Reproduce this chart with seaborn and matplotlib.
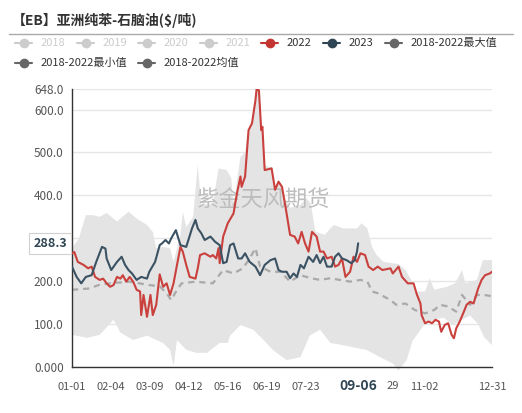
import matplotlib
matplotlib.use("Agg")
import matplotlib.pyplot as plt
from matplotlib.lines import Line2D
import numpy as np
import pandas as pd
import seaborn as sns

# 数据: 日期为一年中的第几天 (01-01 = 0)
red_days = [0, 2, 5, 10, 14, 17, 20, 24, 27, 30, 33, 36, 39, 42, 44, 47, 50, 53, 56, 59, 60, 62, 65, 68, 70, 73,
            76, 79, 82, 85, 88, 91, 94, 96, 99, 102, 107, 109, 111, 115, 120, 122, 125, 127, 128, 131, 135, 140,
            143, 146, 147, 150, 153, 156, 159, 160, 162, 164, 165, 167, 173, 176, 179, 182, 185, 189, 193, 196,
            199, 202, 205, 208, 212, 215, 218, 221, 225, 228, 231, 234, 237, 241, 244, 247, 250, 254, 257, 261,
            265, 269, 276, 278, 283, 286, 291, 296, 299, 302, 303, 306, 309, 312, 315, 318, 320, 323, 326, 329,
            331, 333, 336, 339, 342, 345, 348, 352, 355, 358, 362, 364]
red_vals = [265, 268, 245, 238, 230, 234, 210, 203, 206, 195, 187, 191, 210, 206, 214, 199, 210, 199, 180, 176, 121,
            168, 117, 168, 121, 145, 216, 187, 195, 168, 195, 238, 280, 269, 238, 210, 206, 230, 261, 265, 257, 261,
            253, 277, 242, 304, 335, 358, 405, 444, 420, 444, 552, 568, 622, 648, 645, 552, 560, 459, 463, 413, 432,
            420, 374, 308, 304, 288, 315, 288, 269, 315, 304, 269, 269, 253, 257, 234, 238, 253, 210, 222, 257, 245,
            265, 261, 234, 226, 234, 226, 230, 218, 234, 210, 195, 195, 168, 148, 121, 102, 106, 102, 110, 106, 82,
            98, 102, 75, 67, 90, 106, 125, 145, 152, 148, 183, 203, 214, 218, 222]

dark_days = [0, 4, 8, 12, 17, 21, 26, 29, 30, 34, 39, 43, 46, 49, 52, 56, 60, 65, 67, 72, 76, 78, 81, 84, 86, 90, 94,
             99, 104, 107, 109, 112, 115, 120, 124, 128, 131, 134, 137, 140, 144, 147, 150, 154, 159, 163, 167, 172,
             176, 179, 182, 186, 189, 192, 195, 198, 201, 205, 209, 212, 215, 218, 221, 225, 228, 231, 234, 238, 242,
             245, 247, 248]
dark_vals = [234, 210, 195, 210, 214, 245, 280, 276, 253, 226, 245, 257, 238, 226, 218, 203, 210, 206, 222, 245, 284,
             288, 296, 288, 300, 319, 284, 280, 323, 343, 323, 312, 296, 304, 292, 284, 242, 245, 284, 288, 253, 253,
             265, 245, 234, 214, 238, 249, 253, 226, 222, 222, 207, 218, 210, 238, 230, 257, 245, 261, 242, 257, 234,
             234, 257, 265, 253, 249, 242, 249, 269, 288.3]

mean_days = [0, 15, 23, 33, 50, 67, 76, 82, 86, 91, 95, 107, 122, 131, 140, 148, 154, 159, 163, 172, 181, 189, 198,
             207, 215, 224, 232, 241, 250, 256, 260, 265, 276, 281, 289, 297, 306, 314, 319, 326, 333, 338, 345, 351,
             357, 364]
mean_vals = [180, 183, 191, 195, 199, 191, 188, 172, 156, 180, 195, 199, 195, 226, 218, 230, 253, 277, 234, 222, 222,
             199, 214, 207, 203, 207, 203, 199, 203, 199, 176, 172, 156, 145, 148, 133, 125, 133, 145, 141, 129, 168,
             145, 168, 168, 165]

max_days = [0, 6, 12, 18, 24, 30, 39, 49, 56, 65, 70, 73, 79, 85, 88, 94, 96, 99, 105, 109, 112, 122, 127, 134, 138,
            140, 146, 150, 153, 156, 159, 160, 162, 164, 165, 167, 173, 176, 179, 182, 183, 189, 198, 203, 207, 211,
            219, 224, 227, 235, 247, 251, 256, 260, 264, 270, 283, 289, 294, 297, 306, 310, 314, 325, 332, 338, 341,
            351, 356, 364]
max_vals = [277, 300, 354, 354, 350, 359, 339, 362, 346, 331, 315, 277, 280, 277, 245, 308, 362, 326, 350, 471, 378,
            380, 463, 459, 441, 378, 490, 500, 552, 570, 622, 648, 645, 560, 562, 470, 465, 420, 435, 422, 400, 371,
            378, 394, 380, 315, 308, 323, 331, 323, 323, 335, 323, 280, 261, 245, 240, 226, 203, 176, 176, 207, 180,
            187, 195, 226, 195, 203, 249, 249]

min_days = [0, 13, 24, 36, 42, 53, 65, 79, 85, 88, 91, 99, 108, 117, 128, 135, 137, 146, 157, 166, 174, 186, 198, 206,
            215, 224, 235, 247, 255, 267, 278, 283, 290, 295, 299, 305, 314, 322, 330, 338, 345, 352, 357, 364]
min_vals = [75, 68, 75, 110, 80, 63, 73, 56, 40, 2, 63, 40, 33, 33, 56, 56, 73, 98, 87, 63, 40, 16, 23, 73, 87, 56,
            51, 44, 40, 23, 8, -8, 16, 60, 75, 98, 110, 115, 98, 110, 120, 100, 70, 51]

# 08-26 被最新日期标签遮住, 09-29 只露出 "29"
x_ticks = [0, 34, 67, 101, 135, 169, 203, 237, 271, 305, 364]
x_labels = ['01-01', '02-04', '03-09', '04-12', '05-16', '06-19', '07-23', '', '', '11-02', '12-31']
partial_label = '29'
# 300.0 被最新值标签遮住
y_ticks = [0, 100, 200, 300, 400, 500, 600, 648]
y_labels = ['0.000', '100.0', '200.0', '', '400.0', '500.0', '600.0', '648.0']
last_label = '09-06'

legend_items = [('2018', '#cccccc', False), ('2019', '#cccccc', False), ('2020', '#cccccc', False),
                ('2021', '#cccccc', False), ('2022', '#c23531', True), ('2023', '#2f4554', True),
                ('2018-2022最大值', '#666666', True), ('2018-2022最小值', '#666666', True),
                ('2018-2022均值', '#666666', True)]

RED = '#c9403d'
DARK = '#3b5263'

sns.set_style("white")
plt.rcParams['font.family'] = ['Noto Sans CJK SC', 'DejaVu Sans']

W, H = 522, 413
fig = plt.figure(figsize=(W / 100, H / 100), dpi=100)
ax = fig.add_axes([72 / W, 1 - 367 / H, 420 / W, 278 / H])


def fx(px):
    return px / W


def fy(py):
    return 1 - py / H


# 最大/最小值区间
band_x = np.r_[max_days, min_days[::-1]]
band_y = np.r_[max_vals, min_vals[::-1]]
ax.fill(band_x, band_y, color='#e4e4e4', lw=0, zorder=1, clip_on=False)

ax.text(0.455, 0.6, '紫金天风期货', transform=ax.transAxes, fontsize=16, color='#bdbdbd',
        ha='center', va='center', zorder=1.5)

sns.lineplot(x=mean_days, y=mean_vals, ax=ax, color='#a9a9a9', lw=1.6, linestyle='--', zorder=2)
sns.lineplot(x=red_days, y=red_vals, ax=ax, color=RED, lw=1.5, zorder=3)
sns.lineplot(x=dark_days, y=dark_vals, ax=ax, color=DARK, lw=1.5, zorder=4)
ax.lines[0].set_dashes((2.8, 2.2))

ax.set_xlim(0, 364)
ax.set_ylim(0, 648)
ax.set_xticks(x_ticks)
ax.set_xticklabels(x_labels)
ax.set_yticks(y_ticks)
ax.set_yticklabels(y_labels)
ax.set_xlabel('')
ax.set_ylabel('')
ax.tick_params(axis='x', length=5, width=1, color='#333333', labelsize=8, labelcolor='#555555', pad=6)
ax.tick_params(axis='y', length=4, width=1, color='#333333', labelsize=8.5, labelcolor='#555555', pad=2)
ax.grid(axis='y', color='#e6e6e6', lw=1, zorder=0)
ax.set_axisbelow(True)
for s in ['top', 'right']:
    ax.spines[s].set_visible(False)
for s in ['left', 'bottom']:
    ax.spines[s].set_color('#333333')
    ax.spines[s].set_linewidth(1)

# 09-29 的可见部分
ax.annotate(partial_label, xy=(x_ticks[8], 0), xycoords=('data', 'axes fraction'),
            xytext=(2, -19), textcoords='offset pixels', ha='left', va='center',
            fontsize=8, color='#555555', annotation_clip=False)

# 最新值标签
ax.text(-0.012, dark_vals[-1], f'{dark_vals[-1]:.1f}', transform=ax.get_yaxis_transform(),
        ha='right', va='center', fontsize=9, fontweight='bold', color='#2f4554', zorder=10,
        bbox=dict(boxstyle='square,pad=0.3', fc='white', ec='#d0d0d0', lw=0.8), clip_on=False)
ax.text(dark_days[-1], -0.068, last_label, transform=ax.get_xaxis_transform(),
        ha='center', va='center', fontsize=10, fontweight='bold', color='#2f4554', zorder=10, clip_on=False)

# 标题
fig.text(fx(12), fy(20), '【EB】亚洲纯苯-石脑油($/吨)', fontsize=10, fontweight='bold',
         color='#333333', ha='left', va='center')
fig.add_artist(Line2D([fx(9), fx(513)], [fy(34), fy(34)], color='#aaaaaa', lw=1))

# 图例
pos = [(15, 43), (77, 43), (138, 43), (200, 43), (261, 43), (323, 43), (385, 43), (15, 63), (138, 63)]
for (label, col, active), (px, py) in zip(legend_items, pos):
    fig.add_artist(Line2D([fx(px), fx(px + 17)], [fy(py), fy(py)], color=col, lw=1.5))
    fig.add_artist(Line2D([fx(px + 8.5)], [fy(py)], color=col, marker='o', markersize=6, lw=0))
    fig.text(fx(px + 26), fy(py), label, fontsize=8, color='#333333' if active else '#cccccc',
             ha='left', va='center')

fig.savefig('out.png', dpi=100)
